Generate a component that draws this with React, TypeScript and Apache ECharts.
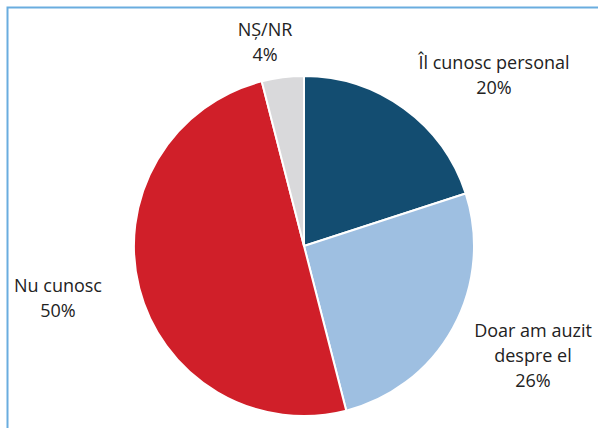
import React, { useEffect, useRef } from "react";
import * as echarts from "echarts";

const categories = ["Îl cunosc personal", "Doar am auzit despre el", "Nu cunosc", "NȘ/NR"];
const labelTexts = ["Îl cunosc personal\n20%", "Doar am auzit\ndespre el\n26%", "Nu cunosc\n50%", "NȘ/NR\n4%"];
const values = [20, 26, 50, 4];
const colors = ["#134d71", "#9ebfe1", "#d01f29", "#d9d9db"];
const labelPos = [
  [494, 74],
  [533, 355],
  [58, 297],
  [265, 41],
];

export default function App() {
  const ref = useRef<HTMLDivElement>(null);
  useEffect(() => {
    document.body.style.margin = "0";
    const chart = echarts.init(ref.current!, null, { renderer: "svg" });
    chart.setOption({
      animation: false,
      backgroundColor: "#ffffff",
      graphic: [
        {
          type: "rect",
          shape: { x: 7.5, y: 7.5, width: 620, height: 440 },
          style: { fill: "none", stroke: "#6aaddf", lineWidth: 2 },
          silent: true,
        },
      ],
      series: [
        {
          type: "pie",
          center: [304, 246],
          radius: [0, 170],
          startAngle: 90,
          clockwise: true,
          itemStyle: { borderColor: "#ffffff", borderWidth: 2 },
          label: {
            show: true,
            position: "outside",
            formatter: (p: any) => labelTexts[p.dataIndex],
            fontFamily: "'Open Sans', sans-serif",
            fontSize: 18,
            lineHeight: 25,
            color: "#222222",
            align: "center",
            overflow: "none",
            width: 300,
          },
          labelLine: { show: false },
          labelLayout: (params: any) => ({
            x: labelPos[params.dataIndex][0],
            y: labelPos[params.dataIndex][1],
            align: "center",
            verticalAlign: "middle",
          }),
          data: categories.map((c, i) => ({
            name: c,
            value: values[i],
            itemStyle: { color: colors[i] },
          })),
        },
      ],
    });
    return () => chart.dispose();
  }, []);
  return <div ref={ref} style={{ width: 598, height: 428 }} />;
}
